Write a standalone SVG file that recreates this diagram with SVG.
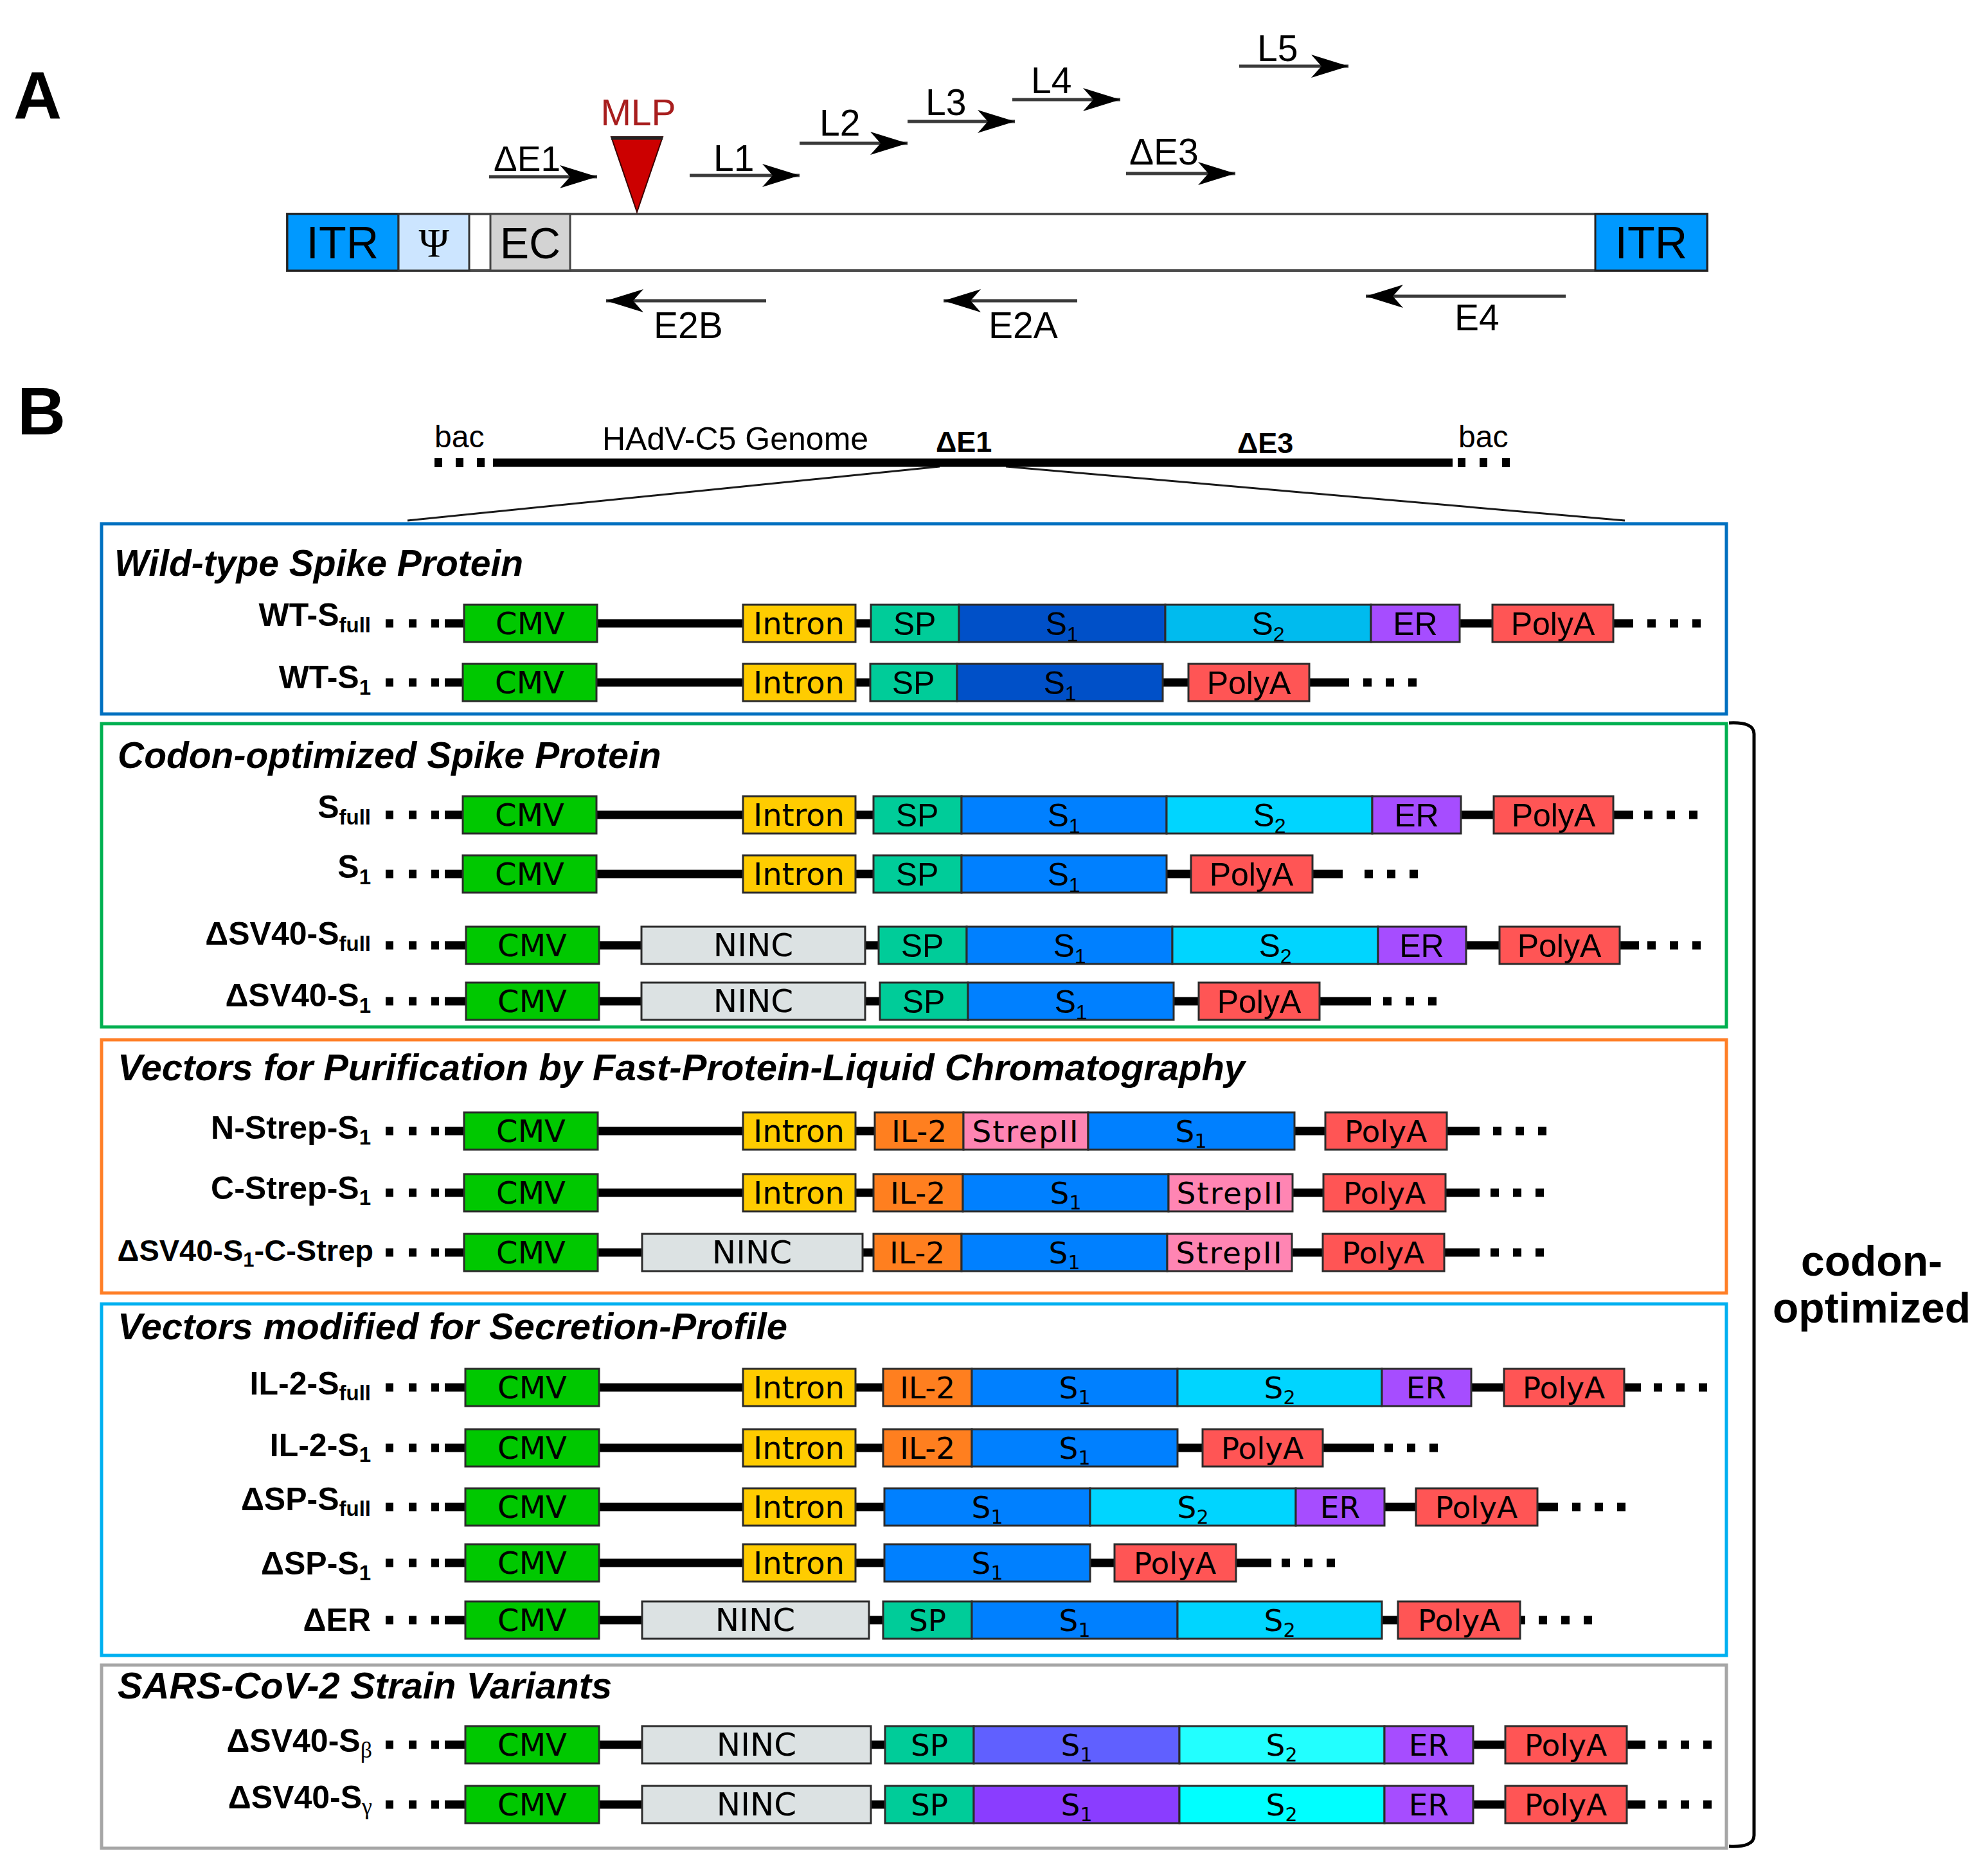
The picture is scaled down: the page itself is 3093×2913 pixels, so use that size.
<svg xmlns="http://www.w3.org/2000/svg" xmlns:xlink="http://www.w3.org/1999/xlink" width="3093" height="2913" viewBox="0 0 3093 2913">
<style>
.bg{fill:#fff}
.bb{stroke:#000;stroke-width:13}
.dot{fill:#000}
.seg{stroke:#2b2b2b;stroke-width:3}
.cmv{fill:#00C800}.intron{fill:#FFCC00}.ninc{fill:#DCE2E3}.sp{fill:#00CC99}
.wts1{fill:#0050C8}.wts2{fill:#00BBEE}.s1{fill:#0080FF}.s2{fill:#00D5FF}
.er{fill:#A64DFF}.polya{fill:#FF5555}.il2{fill:#FF7F1F}.strep{fill:#FF85B3}
.bs1{fill:#6060FF}.bs2{fill:#22FFFF}.gs1{fill:#8A3DFF}.gs2{fill:#00FFFF}
.tv{font-family:"DejaVu Sans",Verdana,sans-serif;font-size:48px;fill:#000;text-anchor:middle}
.tvs{font-family:"DejaVu Sans",Verdana,sans-serif;font-size:47px;fill:#000;text-anchor:middle}
.ta{font-family:"Liberation Sans",Arial,sans-serif;font-size:50px;fill:#000;text-anchor:middle}
.lab{font-family:"Liberation Sans",Arial,sans-serif;font-size:50px;font-weight:bold;fill:#000;text-anchor:end}
.title{font-family:"Liberation Sans",Arial,sans-serif;font-size:57px;font-weight:bold;font-style:italic;fill:#000}
.sa{font-family:"Liberation Sans",Arial,sans-serif;font-size:57px;fill:#000}
.frame{fill:none;stroke-width:5}
.arr{stroke:#3a3a3a;stroke-width:5;fill:none;marker-end:url(#ah)}
.big{font-family:"Liberation Sans",Arial,sans-serif;font-size:104px;font-weight:bold;fill:#000}
</style>
<defs>
<marker id="ah" viewBox="0 0 60 40" refX="58" refY="20" markerWidth="60" markerHeight="40" markerUnits="userSpaceOnUse" orient="auto">
<path d="M0,2 L58,20 L0,38 L16,20 Z" fill="#000"/>
</marker>
<g id="ldots"><rect class="dot" x="600" y="-6.5" width="12" height="13"/><rect class="dot" x="636" y="-6.5" width="12" height="13"/><rect class="dot" x="671" y="-6.5" width="12" height="13"/></g>
<g id="rdots"><rect class="dot" x="0" y="-6.5" width="13" height="13"/><rect class="dot" x="35" y="-6.5" width="13" height="13"/><rect class="dot" x="70" y="-6.5" width="13" height="13"/></g>
</defs>
<rect class="bg" x="0" y="0" width="3093" height="2913"/>

<!-- Panel A -->
<text class="big" x="21" y="184">A</text>
<g id="genomeA">
<rect x="447" y="333" width="2209" height="88" fill="#fff" stroke="#4a4a4a" stroke-width="4"/>
<rect x="447" y="333" width="173" height="88" fill="#0099FF" stroke="#222" stroke-width="3"/>
<rect x="620" y="333" width="110" height="88" fill="#CCE5FF" stroke="#333" stroke-width="3"/>
<rect x="763" y="333" width="124" height="88" fill="#D3D3D3" stroke="#444" stroke-width="3"/>
<rect x="2482" y="333" width="174" height="88" fill="#0099FF" stroke="#222" stroke-width="3"/>
<text class="sa" x="533" y="402" text-anchor="middle" style="font-size:70px">ITR</text>
<text x="675" y="400" font-family="Liberation Serif, serif" font-size="64" text-anchor="middle">Ψ</text>
<text class="sa" x="825" y="402" text-anchor="middle" style="font-size:68px">EC</text>
<text class="sa" x="2569" y="402" text-anchor="middle" style="font-size:70px">ITR</text>
</g>
<g id="mlp">
<path d="M951,213 L1031,213 L991,330 Z" fill="#CC0000" stroke="#3a0000" stroke-width="2"/>
<line x1="951" y1="215" x2="1031" y2="215" stroke="#222" stroke-width="5"/>
<text class="sa" x="993" y="195" text-anchor="middle" style="fill:#A81E1E">MLP</text>
</g>
<g id="labelsA">
<text class="sa" x="768" y="266" style="font-size:55px">ΔE1</text>
<text class="sa" x="1110" y="266">L1</text>
<text class="sa" x="1275" y="211">L2</text>
<text class="sa" x="1440" y="179">L3</text>
<text class="sa" x="1604" y="145">L4</text>
<text class="sa" x="1956" y="95">L5</text>
<text class="sa" x="1757" y="256">ΔE3</text>
<text class="sa" x="1017" y="526">E2B</text>
<text class="sa" x="1538" y="526">E2A</text>
<text class="sa" x="2263" y="514">E4</text>
</g>
<g id="connectors">
<line class="arr" x1="761" y1="275" x2="929" y2="275"/>
<line class="arr" x1="1073" y1="273" x2="1244" y2="273"/>
<line class="arr" x1="1244" y1="223" x2="1412" y2="223"/>
<line class="arr" x1="1412" y1="189" x2="1579" y2="189"/>
<line class="arr" x1="1575" y1="155" x2="1743" y2="155"/>
<line class="arr" x1="1928" y1="103" x2="2098" y2="103"/>
<line class="arr" x1="1752" y1="270" x2="1922" y2="270"/>
<line class="arr" x1="1192" y1="468" x2="943" y2="468"/>
<line class="arr" x1="1676" y1="468" x2="1468" y2="468"/>
<line class="arr" x1="2436" y1="461" x2="2125" y2="461"/>
<line x1="1462" y1="726" x2="634" y2="810" stroke="#1a1a1a" stroke-width="3"/>
<line x1="1565" y1="726" x2="2528" y2="810" stroke="#1a1a1a" stroke-width="3"/>
</g>

<!-- Panel B -->
<text class="big" x="27" y="676">B</text>
<g id="genomeB">
<line x1="767" y1="720" x2="2260" y2="720" stroke="#000" stroke-width="13"/>
<rect class="dot" x="676" y="713" width="12" height="14"/><rect class="dot" x="709" y="713" width="12" height="14"/><rect class="dot" x="742" y="713" width="12" height="14"/>
<rect class="dot" x="2268" y="713" width="12" height="14"/><rect class="dot" x="2302" y="713" width="12" height="14"/><rect class="dot" x="2337" y="713" width="12" height="14"/>
<text class="sa" x="676" y="696" style="font-size:48px">bac</text>
<text class="sa" x="937" y="700" style="font-size:50px">HAdV-C5 Genome</text>
<text class="sa" x="1456" y="703" style="font-size:45px;font-weight:bold">ΔE1</text>
<text class="sa" x="1925" y="705" style="font-size:45px;font-weight:bold">ΔE3</text>
<text class="sa" x="2269" y="696" style="font-size:48px">bac</text>
</g>

<g id="frames">
<rect class="frame" x="158" y="815" width="2528" height="296" stroke="#0070C0"/>
<rect class="frame" x="158" y="1126" width="2528" height="472" stroke="#00B050"/>
<rect class="frame" x="158" y="1618" width="2528" height="394" stroke="#FF7F27"/>
<rect class="frame" x="158" y="2029" width="2528" height="547" stroke="#00B0F0"/>
<rect class="frame" x="158" y="2591" width="2528" height="285" stroke="#A6A6A6"/>
<text class="title" x="178" y="896">Wild-type Spike Protein</text>
<text class="title" x="183" y="1195">Codon-optimized Spike Protein</text>
<text class="title" x="183" y="1681" style="font-size:58px">Vectors for Purification by Fast-Protein-Liquid Chromatography</text>
<text class="title" x="183" y="2084" style="font-size:58px">Vectors modified for Secretion-Profile</text>
<text class="title" x="183" y="2643" style="font-size:58px">SARS-CoV-2 Strain Variants</text>
</g>

<g id="bracket">
<path d="M2690,1125 Q2729,1123 2729,1142 L2729,2856 Q2729,2875 2690,2873" fill="none" stroke="#000" stroke-width="5"/>
<text class="sa" x="2912" y="1985" text-anchor="middle" style="font-size:66px;font-weight:bold">codon-</text>
<text class="sa" x="2912" y="2058" text-anchor="middle" style="font-size:66px;font-weight:bold">optimized</text>
</g>

<!-- Row 1 WT-Sfull c=970 -->
<g id="row-wt-sfull">
<line class="bb" x1="692" y1="970" x2="2541" y2="970"/>
<use href="#ldots" xlink:href="#ldots" y="970"/><use href="#rdots" xlink:href="#rdots" x="2563" y="970"/>
<rect class="seg cmv" x="722" y="941" width="207" height="58"/><text class="tv" x="825" y="987">CMV</text>
<rect class="seg intron" x="1156" y="941" width="175" height="58"/><text class="tv" x="1243" y="987">Intron</text>
<rect class="seg sp" x="1355" y="941" width="137" height="58"/><text class="ta" x="1423" y="988">SP</text>
<rect class="seg wts1" x="1492" y="941" width="321" height="58"/><text class="ta" x="1652" y="988">S<tspan font-size="32" dy="10">1</tspan></text>
<rect class="seg wts2" x="1813" y="941" width="320" height="58"/><text class="ta" x="1973" y="988">S<tspan font-size="32" dy="10">2</tspan></text>
<rect class="seg er" x="2133" y="941" width="138" height="58"/><text class="ta" x="2202" y="988">ER</text>
<rect class="seg polya" x="2322" y="941" width="188" height="58"/><text class="ta" x="2416" y="988">PolyA</text>
<text class="lab" x="577" y="974">WT-S<tspan font-size="33" dy="10">full</tspan></text>
</g>
<!-- Row 2 WT-S1 c=1062 -->
<g id="row-wt-s1">
<line class="bb" x1="692" y1="1062" x2="2099" y2="1062"/>
<use href="#ldots" xlink:href="#ldots" y="1062"/><use href="#rdots" xlink:href="#rdots" x="2121" y="1062"/>
<rect class="seg cmv" x="720" y="1033" width="208" height="58"/><text class="tv" x="824" y="1079">CMV</text>
<rect class="seg intron" x="1156" y="1033" width="175" height="58"/><text class="tv" x="1243" y="1079">Intron</text>
<rect class="seg sp" x="1354" y="1033" width="135" height="58"/><text class="ta" x="1421" y="1080">SP</text>
<rect class="seg wts1" x="1489" y="1033" width="320" height="58"/><text class="ta" x="1649" y="1080">S<tspan font-size="32" dy="10">1</tspan></text>
<rect class="seg polya" x="1849" y="1033" width="188" height="58"/><text class="ta" x="1943" y="1080">PolyA</text>
<text class="lab" x="577" y="1071">WT-S<tspan font-size="33" dy="10">1</tspan></text>
</g>
<!-- Row 3 Sfull c=1268 -->
<g id="row-sfull">
<line class="bb" x1="692" y1="1268" x2="2541" y2="1268"/>
<use href="#ldots" xlink:href="#ldots" y="1268"/><use href="#rdots" xlink:href="#rdots" x="2558" y="1268"/>
<rect class="seg cmv" x="720" y="1239" width="208" height="58"/><text class="tv" x="824" y="1285">CMV</text>
<rect class="seg intron" x="1156" y="1239" width="175" height="58"/><text class="tv" x="1243" y="1285">Intron</text>
<rect class="seg sp" x="1359" y="1239" width="137" height="58"/><text class="ta" x="1427" y="1286">SP</text>
<rect class="seg s1" x="1496" y="1239" width="319" height="58"/><text class="ta" x="1655" y="1286">S<tspan font-size="32" dy="10">1</tspan></text>
<rect class="seg s2" x="1815" y="1239" width="320" height="58"/><text class="ta" x="1975" y="1286">S<tspan font-size="32" dy="10">2</tspan></text>
<rect class="seg er" x="2135" y="1239" width="138" height="58"/><text class="ta" x="2204" y="1286">ER</text>
<rect class="seg polya" x="2324" y="1239" width="186" height="58"/><text class="ta" x="2417" y="1286">PolyA</text>
<text class="lab" x="577" y="1273">S<tspan font-size="33" dy="10">full</tspan></text>
</g>
<!-- Row 4 S1 c=1360 -->
<g id="row-s1">
<line class="bb" x1="692" y1="1360" x2="2089" y2="1360"/>
<use href="#ldots" xlink:href="#ldots" y="1360"/><use href="#rdots" xlink:href="#rdots" x="2123" y="1360"/>
<rect class="seg cmv" x="720" y="1331" width="208" height="58"/><text class="tv" x="824" y="1377">CMV</text>
<rect class="seg intron" x="1156" y="1331" width="175" height="58"/><text class="tv" x="1243" y="1377">Intron</text>
<rect class="seg sp" x="1359" y="1331" width="137" height="58"/><text class="ta" x="1427" y="1378">SP</text>
<rect class="seg s1" x="1496" y="1331" width="319" height="58"/><text class="ta" x="1655" y="1378">S<tspan font-size="32" dy="10">1</tspan></text>
<rect class="seg polya" x="1853" y="1331" width="189" height="58"/><text class="ta" x="1947" y="1378">PolyA</text>
<text class="lab" x="577" y="1366">S<tspan font-size="33" dy="10">1</tspan></text>
</g>
<!-- Row 5 dSV40-Sfull c=1471 -->
<g id="row-dsv40-sfull">
<line class="bb" x1="692" y1="1471" x2="2550" y2="1471"/>
<use href="#ldots" xlink:href="#ldots" y="1471"/><use href="#rdots" xlink:href="#rdots" x="2563" y="1471"/>
<rect class="seg cmv" x="725" y="1442" width="207" height="58"/><text class="tv" x="828" y="1488">CMV</text>
<rect class="seg ninc" x="998" y="1442" width="348" height="58"/><text class="tv" x="1172" y="1488" style="font-size:50px">NINC</text>
<rect class="seg sp" x="1367" y="1442" width="137" height="58"/><text class="ta" x="1435" y="1489">SP</text>
<rect class="seg s1" x="1504" y="1442" width="320" height="58"/><text class="ta" x="1664" y="1489">S<tspan font-size="32" dy="10">1</tspan></text>
<rect class="seg s2" x="1824" y="1442" width="320" height="58"/><text class="ta" x="1984" y="1489">S<tspan font-size="32" dy="10">2</tspan></text>
<rect class="seg er" x="2144" y="1442" width="137" height="58"/><text class="ta" x="2212" y="1489">ER</text>
<rect class="seg polya" x="2333" y="1442" width="187" height="58"/><text class="ta" x="2426" y="1489">PolyA</text>
<text class="lab" x="577" y="1470">ΔSV40-S<tspan font-size="33" dy="10">full</tspan></text>
</g>
<!-- Row 6 dSV40-S1 c=1558 -->
<g id="row-dsv40-s1">
<line class="bb" x1="692" y1="1558" x2="2133" y2="1558"/>
<use href="#ldots" xlink:href="#ldots" y="1558"/><use href="#rdots" xlink:href="#rdots" x="2152" y="1558"/>
<rect class="seg cmv" x="725" y="1529" width="207" height="58"/><text class="tv" x="828" y="1575">CMV</text>
<rect class="seg ninc" x="998" y="1529" width="348" height="58"/><text class="tv" x="1172" y="1575" style="font-size:50px">NINC</text>
<rect class="seg sp" x="1369" y="1529" width="137" height="58"/><text class="ta" x="1437" y="1576">SP</text>
<rect class="seg s1" x="1506" y="1529" width="320" height="58"/><text class="ta" x="1666" y="1576">S<tspan font-size="32" dy="10">1</tspan></text>
<rect class="seg polya" x="1865" y="1529" width="188" height="58"/><text class="ta" x="1959" y="1576">PolyA</text>
<text class="lab" x="577" y="1566">ΔSV40-S<tspan font-size="33" dy="10">1</tspan></text>
</g>
<!-- Row 7 N-Strep-S1 c=1760 -->
<g id="row-nstrep-s1">
<line class="bb" x1="692" y1="1760" x2="2302" y2="1760"/>
<use href="#ldots" xlink:href="#ldots" y="1760"/><use href="#rdots" xlink:href="#rdots" x="2323" y="1760"/>
<rect class="seg cmv" x="722" y="1731" width="208" height="58"/><text class="tv" x="826" y="1777">CMV</text>
<rect class="seg intron" x="1156" y="1731" width="175" height="58"/><text class="tv" x="1243" y="1777">Intron</text>
<rect class="seg il2" x="1361" y="1731" width="138" height="58"/><text class="tvs" x="1430" y="1777">IL-2</text>
<rect class="seg strep" x="1499" y="1731" width="194" height="58"/><text class="tvs" x="1596" y="1777" letter-spacing="2">StrepII</text>
<rect class="seg s1" x="1693" y="1731" width="321" height="58"/><text class="tvs" x="1853" y="1777">S<tspan font-size="30" dy="9">1</tspan></text>
<rect class="seg polya" x="2062" y="1731" width="189" height="58"/><text class="tvs" x="2156" y="1777">PolyA</text>
<text class="lab" x="577" y="1772">N-Strep-S<tspan font-size="33" dy="9">1</tspan></text>
</g>
<!-- Row 8 C-Strep-S1 c=1856 -->
<g id="row-cstrep-s1">
<line class="bb" x1="692" y1="1856" x2="2302" y2="1856"/>
<use href="#ldots" xlink:href="#ldots" y="1856"/><use href="#rdots" xlink:href="#rdots" x="2319" y="1856"/>
<rect class="seg cmv" x="722" y="1827" width="208" height="58"/><text class="tv" x="826" y="1873">CMV</text>
<rect class="seg intron" x="1156" y="1827" width="175" height="58"/><text class="tv" x="1243" y="1873">Intron</text>
<rect class="seg il2" x="1359" y="1827" width="139" height="58"/><text class="tvs" x="1428" y="1873">IL-2</text>
<rect class="seg s1" x="1498" y="1827" width="320" height="58"/><text class="tvs" x="1658" y="1873">S<tspan font-size="30" dy="9">1</tspan></text>
<rect class="seg strep" x="1818" y="1827" width="193" height="58"/><text class="tvs" x="1914" y="1873" letter-spacing="2">StrepII</text>
<rect class="seg polya" x="2059" y="1827" width="190" height="58"/><text class="tvs" x="2154" y="1873">PolyA</text>
<text class="lab" x="577" y="1866">C-Strep-S<tspan font-size="33" dy="9">1</tspan></text>
</g>
<!-- Row 9 dSV40-S1-C-Strep c=1949 -->
<g id="row-dsv40-s1-cstrep">
<line class="bb" x1="692" y1="1949" x2="2302" y2="1949"/>
<use href="#ldots" xlink:href="#ldots" y="1949"/><use href="#rdots" xlink:href="#rdots" x="2319" y="1949"/>
<rect class="seg cmv" x="722" y="1920" width="208" height="58"/><text class="tv" x="826" y="1966">CMV</text>
<rect class="seg ninc" x="999" y="1920" width="343" height="58"/><text class="tv" x="1170" y="1966" style="font-size:50px">NINC</text>
<rect class="seg il2" x="1359" y="1920" width="137" height="58"/><text class="tvs" x="1427" y="1966">IL-2</text>
<rect class="seg s1" x="1496" y="1920" width="320" height="58"/><text class="tvs" x="1656" y="1966">S<tspan font-size="30" dy="9">1</tspan></text>
<rect class="seg strep" x="1816" y="1920" width="194" height="58"/><text class="tvs" x="1913" y="1966" letter-spacing="2">StrepII</text>
<rect class="seg polya" x="2058" y="1920" width="189" height="58"/><text class="tvs" x="2152" y="1966">PolyA</text>
<text class="lab" x="581" y="1962" style="font-size:47px">ΔSV40-S<tspan font-size="31" dy="9">1</tspan><tspan dy="-9">-C-Strep</tspan></text>
</g>
<!-- Row 10 IL-2-Sfull c=2159 -->
<g id="row-il2-sfull">
<line class="bb" x1="692" y1="2159" x2="2553" y2="2159"/>
<use href="#ldots" xlink:href="#ldots" y="2159"/><use href="#rdots" xlink:href="#rdots" x="2573" y="2159"/>
<rect class="seg cmv" x="724" y="2130" width="208" height="58"/><text class="tv" x="828" y="2176">CMV</text>
<rect class="seg intron" x="1156" y="2130" width="175" height="58"/><text class="tv" x="1243" y="2176">Intron</text>
<rect class="seg il2" x="1374" y="2130" width="138" height="58"/><text class="tvs" x="1443" y="2176">IL-2</text>
<rect class="seg s1" x="1512" y="2130" width="320" height="58"/><text class="tvs" x="1672" y="2176">S<tspan font-size="30" dy="9">1</tspan></text>
<rect class="seg s2" x="1832" y="2130" width="318" height="58"/><text class="tvs" x="1991" y="2176">S<tspan font-size="30" dy="9">2</tspan></text>
<rect class="seg er" x="2150" y="2130" width="139" height="58"/><text class="tvs" x="2219" y="2176">ER</text>
<rect class="seg polya" x="2340" y="2130" width="187" height="58"/><text class="tvs" x="2433" y="2176">PolyA</text>
<text class="lab" x="577" y="2170">IL-2-S<tspan font-size="33" dy="9">full</tspan></text>
</g>
<!-- Row 11 IL-2-S1 c=2253 -->
<g id="row-il2-s1">
<line class="bb" x1="692" y1="2253" x2="2138" y2="2253"/>
<use href="#ldots" xlink:href="#ldots" y="2253"/><use href="#rdots" xlink:href="#rdots" x="2154" y="2253"/>
<rect class="seg cmv" x="724" y="2224" width="208" height="58"/><text class="tv" x="828" y="2270">CMV</text>
<rect class="seg intron" x="1156" y="2224" width="175" height="58"/><text class="tv" x="1243" y="2270">Intron</text>
<rect class="seg il2" x="1374" y="2224" width="138" height="58"/><text class="tvs" x="1443" y="2270">IL-2</text>
<rect class="seg s1" x="1512" y="2224" width="320" height="58"/><text class="tvs" x="1672" y="2270">S<tspan font-size="30" dy="9">1</tspan></text>
<rect class="seg polya" x="1871" y="2224" width="187" height="58"/><text class="tvs" x="1964" y="2270">PolyA</text>
<text class="lab" x="577" y="2266">IL-2-S<tspan font-size="33" dy="9">1</tspan></text>
</g>
<!-- Row 12 dSP-Sfull c=2345 -->
<g id="row-dsp-sfull">
<line class="bb" x1="692" y1="2345" x2="2424" y2="2345"/>
<use href="#ldots" xlink:href="#ldots" y="2345"/><use href="#rdots" xlink:href="#rdots" x="2446" y="2345"/>
<rect class="seg cmv" x="724" y="2316" width="208" height="58"/><text class="tv" x="828" y="2362">CMV</text>
<rect class="seg intron" x="1156" y="2316" width="175" height="58"/><text class="tv" x="1243" y="2362">Intron</text>
<rect class="seg s1" x="1376" y="2316" width="320" height="58"/><text class="tvs" x="1536" y="2362">S<tspan font-size="30" dy="9">1</tspan></text>
<rect class="seg s2" x="1696" y="2316" width="320" height="58"/><text class="tvs" x="1856" y="2362">S<tspan font-size="30" dy="9">2</tspan></text>
<rect class="seg er" x="2016" y="2316" width="138" height="58"/><text class="tvs" x="2085" y="2362">ER</text>
<rect class="seg polya" x="2203" y="2316" width="189" height="58"/><text class="tvs" x="2297" y="2362">PolyA</text>
<text class="lab" x="577" y="2350">ΔSP-S<tspan font-size="33" dy="9">full</tspan></text>
</g>
<!-- Row 13 dSP-S1 c=2432 -->
<g id="row-dsp-s1">
<line class="bb" x1="692" y1="2432" x2="1978" y2="2432"/>
<use href="#ldots" xlink:href="#ldots" y="2432"/><use href="#rdots" xlink:href="#rdots" x="1994" y="2432"/>
<rect class="seg cmv" x="724" y="2403" width="208" height="58"/><text class="tv" x="828" y="2449">CMV</text>
<rect class="seg intron" x="1156" y="2403" width="175" height="58"/><text class="tv" x="1243" y="2449">Intron</text>
<rect class="seg s1" x="1376" y="2403" width="320" height="58"/><text class="tvs" x="1536" y="2449">S<tspan font-size="30" dy="9">1</tspan></text>
<rect class="seg polya" x="1734" y="2403" width="189" height="58"/><text class="tvs" x="1828" y="2449">PolyA</text>
<text class="lab" x="577" y="2450">ΔSP-S<tspan font-size="33" dy="9">1</tspan></text>
</g>
<!-- Row 14 dER c=2521 -->
<g id="row-der">
<line class="bb" x1="692" y1="2521" x2="2373" y2="2521"/>
<use href="#ldots" xlink:href="#ldots" y="2521"/><use href="#rdots" xlink:href="#rdots" x="2394" y="2521"/>
<rect class="seg cmv" x="724" y="2492" width="208" height="58"/><text class="tv" x="828" y="2538">CMV</text>
<rect class="seg ninc" x="999" y="2492" width="353" height="58"/><text class="tv" x="1175" y="2538" style="font-size:50px">NINC</text>
<rect class="seg sp" x="1374" y="2492" width="138" height="58"/><text class="tvs" x="1443" y="2538">SP</text>
<rect class="seg s1" x="1512" y="2492" width="320" height="58"/><text class="tvs" x="1672" y="2538">S<tspan font-size="30" dy="9">1</tspan></text>
<rect class="seg s2" x="1832" y="2492" width="318" height="58"/><text class="tvs" x="1991" y="2538">S<tspan font-size="30" dy="9">2</tspan></text>
<rect class="seg polya" x="2175" y="2492" width="190" height="58"/><text class="tvs" x="2270" y="2538">PolyA</text>
<text class="lab" x="577" y="2538">ΔER</text>
</g>
<!-- Row 15 dSV40-Sbeta c=2715 -->
<g id="row-dsv40-sbeta">
<line class="bb" x1="692" y1="2715" x2="2560" y2="2715"/>
<use href="#ldots" xlink:href="#ldots" y="2715"/><use href="#rdots" xlink:href="#rdots" x="2580" y="2715"/>
<rect class="seg cmv" x="724" y="2686" width="208" height="58"/><text class="tv" x="828" y="2732">CMV</text>
<rect class="seg ninc" x="999" y="2686" width="356" height="58"/><text class="tv" x="1177" y="2732" style="font-size:50px">NINC</text>
<rect class="seg sp" x="1377" y="2686" width="138" height="58"/><text class="tvs" x="1446" y="2732">SP</text>
<rect class="seg bs1" x="1515" y="2686" width="320" height="58"/><text class="tvs" x="1675" y="2732">S<tspan font-size="30" dy="9">1</tspan></text>
<rect class="seg bs2" x="1835" y="2686" width="319" height="58"/><text class="tvs" x="1994" y="2732">S<tspan font-size="30" dy="9">2</tspan></text>
<rect class="seg er" x="2154" y="2686" width="138" height="58"/><text class="tvs" x="2223" y="2732">ER</text>
<rect class="seg polya" x="2342" y="2686" width="189" height="58"/><text class="tvs" x="2436" y="2732">PolyA</text>
<text class="lab" x="579" y="2726">ΔSV40-S<tspan font-family="Liberation Serif, serif" font-weight="normal" font-size="36" dy="9">β</tspan></text>
</g>
<!-- Row 16 dSV40-Sgamma c=2808 -->
<g id="row-dsv40-sgamma">
<line class="bb" x1="692" y1="2808" x2="2560" y2="2808"/>
<use href="#ldots" xlink:href="#ldots" y="2808"/><use href="#rdots" xlink:href="#rdots" x="2580" y="2808"/>
<rect class="seg cmv" x="724" y="2779" width="208" height="58"/><text class="tv" x="828" y="2825">CMV</text>
<rect class="seg ninc" x="999" y="2779" width="356" height="58"/><text class="tv" x="1177" y="2825" style="font-size:50px">NINC</text>
<rect class="seg sp" x="1377" y="2779" width="138" height="58"/><text class="tvs" x="1446" y="2825">SP</text>
<rect class="seg gs1" x="1515" y="2779" width="320" height="58"/><text class="tvs" x="1675" y="2825">S<tspan font-size="30" dy="9">1</tspan></text>
<rect class="seg gs2" x="1835" y="2779" width="319" height="58"/><text class="tvs" x="1994" y="2825">S<tspan font-size="30" dy="9">2</tspan></text>
<rect class="seg er" x="2154" y="2779" width="138" height="58"/><text class="tvs" x="2223" y="2825">ER</text>
<rect class="seg polya" x="2342" y="2779" width="189" height="58"/><text class="tvs" x="2436" y="2825">PolyA</text>
<text class="lab" x="579" y="2814">ΔSV40-S<tspan font-family="Liberation Serif, serif" font-weight="normal" font-size="36" dy="9">γ</tspan></text>
</g>
</svg>
